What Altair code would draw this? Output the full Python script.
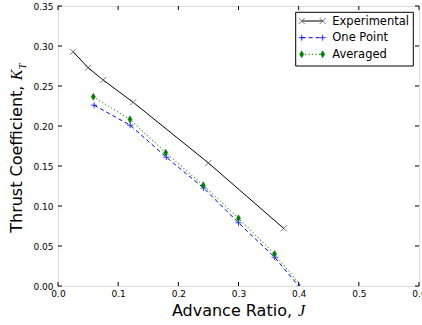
import altair as alt
import pandas as pd

# ---- data ----
J_exp = [0.025, 0.05, 0.075, 0.125, 0.25, 0.375]
K_exp = [0.2929, 0.2729, 0.2575, 0.2296, 0.1538, 0.0721]
J_one = [0.06, 0.12, 0.18, 0.242, 0.30, 0.36, 0.401]
K_one = [0.226, 0.201, 0.161, 0.1225, 0.079, 0.036, -0.001]
J_avg = [0.0587, 0.1196, 0.179, 0.2414, 0.300, 0.36, 0.41]
K_avg = [0.2366, 0.2083, 0.1667, 0.126, 0.0846, 0.040, -0.005]

x_ticks = [0.0, 0.1, 0.2, 0.3, 0.4, 0.5, 0.6]
y_ticks = [0.00, 0.05, 0.10, 0.15, 0.20, 0.25, 0.30, 0.35]

series_names = ["Experimental", "One Point", "Averaged"]
x_title = ["Advance Ratio,", "J"]
y_title = ["Thrust Coefficient,", "K", "T"]

# ---- layout / style ----
W, H = 361, 280
FONT = "DejaVu Sans"
MATH = "Liberation Serif"
BLACK, BLUE, GREEN = "#000000", "#0000ff", "#007f00"
XMARK = "M-1,-1L1,1M-1,1L1,-1"
PLUS = "M-1,0L1,0M0,-1L0,1"
DIAM = "M0,-1L0.6,0L0,1L-0.6,0Z"

xscale = alt.Scale(domain=[0, 0.6], nice=False, zero=False)
yscale = alt.Scale(domain=[0, 0.35], nice=False, zero=False)
xaxis = alt.Axis(values=x_ticks, format=".1f", title=None, grid=False, ticks=False,
                 tickSize=0, domain=False, labelFont=FONT, labelFontSize=9,
                 labelColor="black", labelPadding=3, labelFlush=False, labelOverlap=False)
yaxis = alt.Axis(values=y_ticks, format=".2f", title=None, grid=False, ticks=False,
                 tickSize=0, domain=False, labelFont=FONT, labelFontSize=9,
                 labelColor="black", labelPadding=5, labelOverlap=False)
X = alt.X("J:Q", scale=xscale, axis=xaxis)
Y = alt.Y("K:Q", scale=yscale, axis=yaxis)

df_exp = pd.DataFrame({"J": J_exp, "K": K_exp})
df_one = pd.DataFrame({"J": J_one, "K": K_one})
df_avg = pd.DataFrame({"J": J_avg, "K": K_avg})
df_xt = pd.DataFrame({"J": x_ticks})
df_yt = pd.DataFrame({"K": y_ticks})

layers = []
# inward ticks
layers.append(alt.Chart(df_xt).mark_rule(color="black", strokeWidth=1).encode(x=X, y=alt.value(H), y2=alt.value(H - 4)))
layers.append(alt.Chart(df_xt).mark_rule(color="black", strokeWidth=1).encode(x=X, y=alt.value(0), y2=alt.value(4)))
layers.append(alt.Chart(df_yt).mark_rule(color="black", strokeWidth=1).encode(y=Y, x=alt.value(0), x2=alt.value(4)))
layers.append(alt.Chart(df_yt).mark_rule(color="black", strokeWidth=1).encode(y=Y, x=alt.value(W), x2=alt.value(W - 4)))

# series lines
layers.append(alt.Chart(df_exp).mark_line(color=BLACK, strokeWidth=1, clip=True).encode(x=X, y=Y))
layers.append(alt.Chart(df_one).mark_line(color=BLUE, strokeWidth=1, strokeDash=[4, 3], clip=True).encode(x=X, y=Y))
layers.append(alt.Chart(df_avg).mark_line(color=GREEN, strokeWidth=1.2, strokeDash=[1, 2.5], opacity=0.8, clip=True).encode(x=X, y=Y))
# markers
layers.append(alt.Chart(df_exp).mark_point(shape=XMARK, size=36, filled=False, color="#555555", strokeWidth=0.8, opacity=1, clip=True).encode(x=X, y=Y))
layers.append(alt.Chart(df_one).mark_point(shape=PLUS, size=36, filled=False, color=BLUE, strokeWidth=0.8, opacity=1, clip=True).encode(x=X, y=Y))
layers.append(alt.Chart(df_avg).mark_point(shape=DIAM, size=49, filled=True, color=GREEN, opacity=1, stroke=GREEN, strokeWidth=0.5, clip=True).encode(x=X, y=Y))

# legend (manual, matplotlib style)
one = pd.DataFrame({"d": [0]})
LX0, LX1, LY0, LY1 = 237.7, 355.3, 6.3, 60
layers.append(alt.Chart(one).mark_rect(fill="white", stroke="black", strokeWidth=1).encode(
    x=alt.value(LX0), x2=alt.value(LX1), y=alt.value(LY0), y2=alt.value(LY1)))
rows = [15, 31.7, 48.3]
styles = [
    dict(color=BLACK, dash=None, shape=XMARK, size=36, filled=False, mcolor="#555555", sw=1),
    dict(color=BLUE, dash=[4, 3], shape=PLUS, size=36, filled=False, mcolor=BLUE, sw=1),
    dict(color=GREEN, dash=[1, 2.5], shape=DIAM, size=49, filled=True, mcolor=GREEN, sw=1.2),
]
SX0, SX1, TX = 243.7, 264.7, 274.3
for name, ry, st in zip(series_names, rows, styles):
    lk = dict(color=st["color"], strokeWidth=st["sw"])
    if st["dash"]:
        lk["strokeDash"] = st["dash"]
    layers.append(alt.Chart(one).mark_rule(**lk).encode(
        x=alt.value(SX0), x2=alt.value(SX1), y=alt.value(ry)))
    for sx in (SX0, SX1):
        pk = dict(shape=st["shape"], size=st["size"], filled=st["filled"], color=st["mcolor"], opacity=1)
        if st["filled"]:
            pk.update(stroke=st["mcolor"], strokeWidth=0.5)
        else:
            pk.update(strokeWidth=0.8)
        layers.append(alt.Chart(one).mark_point(**pk).encode(x=alt.value(sx), y=alt.value(ry)))
    layers.append(alt.Chart(pd.DataFrame({"t": [name]})).mark_text(
        font=FONT, fontSize=11.5, color="black", align="left", baseline="middle").encode(
        x=alt.value(TX), y=alt.value(ry + 0.5), text="t:N"))

# axis titles (mixed normal / italic math)
layers.append(alt.Chart(pd.DataFrame({"t": [x_title[0]]})).mark_text(
    font=FONT, fontSize=16, color="black", align="right", baseline="alphabetic").encode(
    x=alt.value(234), y=alt.value(309.7), text="t:N"))
layers.append(alt.Chart(pd.DataFrame({"t": [x_title[1]]})).mark_text(
    font=MATH, fontSize=16, fontStyle="italic", color="black", align="left", baseline="alphabetic").encode(
    x=alt.value(240), y=alt.value(309.7), text="t:N"))

layers.append(alt.Chart(pd.DataFrame({"t": [y_title[0]]})).mark_text(
    font=FONT, fontSize=16, color="black", align="right", baseline="alphabetic", angle=270).encode(
    x=alt.value(-36), y=alt.value(79.6), text="t:N"))
layers.append(alt.Chart(pd.DataFrame({"t": [y_title[1]]})).mark_text(
    font=MATH, fontSize=16, fontStyle="italic", color="black", align="left", baseline="alphabetic", angle=270).encode(
    x=alt.value(-36), y=alt.value(74.3), text="t:N"))
layers.append(alt.Chart(pd.DataFrame({"t": [y_title[2]]})).mark_text(
    font=MATH, fontSize=11, fontStyle="italic", color="black", align="left", baseline="alphabetic", angle=270).encode(
    x=alt.value(-32.5), y=alt.value(63.5), text="t:N"))

chart = alt.layer(*layers).properties(
    width=W, height=H, autosize="none",
    padding={"left": 58, "top": 6, "right": 3, "bottom": 39},
).configure_view(stroke="black", strokeWidth=1).configure(background="white")

chart.save("out.html", embed_options={"renderer": "svg", "actions": False})
